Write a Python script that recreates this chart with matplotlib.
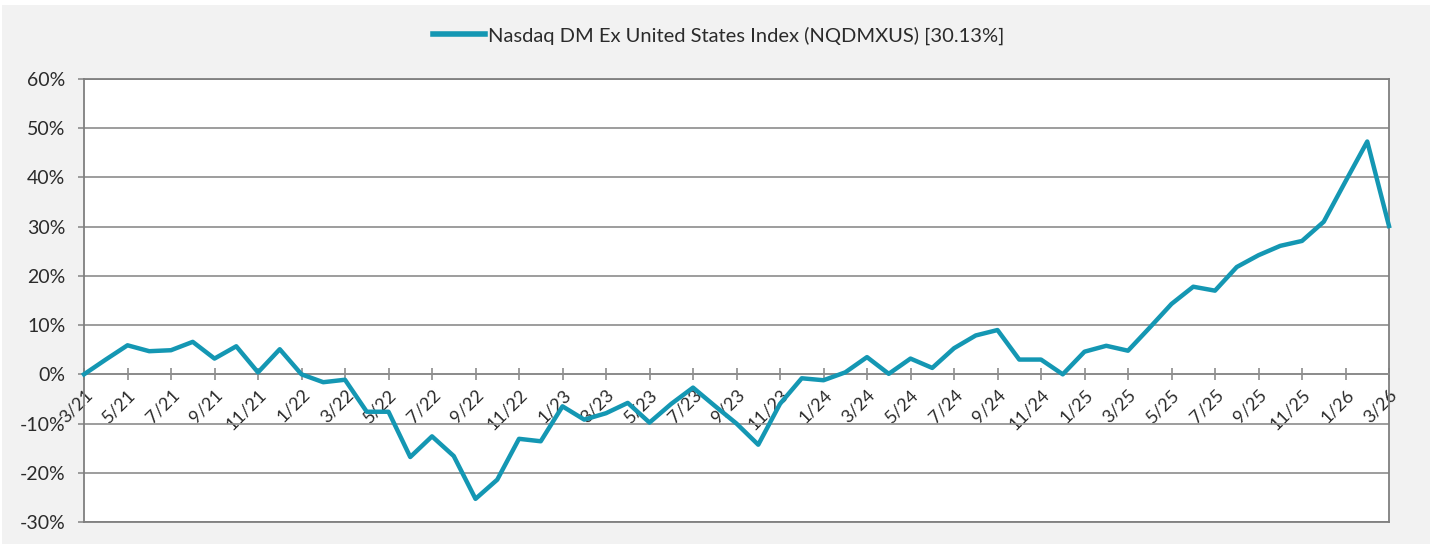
import matplotlib
matplotlib.use("Agg")
import matplotlib.pyplot as plt
from matplotlib.patches import Rectangle
from matplotlib.ticker import FuncFormatter

plt.rcParams["font.family"] = ["Lato", "DejaVu Sans"]

# monthly cumulative return, 3/21 .. 3/26
months = [f"{(2 + i) % 12 + 1}/{21 + (2 + i) // 12}" for i in range(61)]
returns = [
    0.0, 3.0, 5.9, 4.7, 4.9, 6.6, 3.2, 5.7, 0.4, 5.1,
    0.0, -1.6, -1.1, -7.6, -7.6, -16.8, -12.6, -16.6, -25.3, -21.4,
    -13.1, -13.6, -6.5, -9.2, -7.9, -5.8, -9.8, -6.0, -2.7, -6.4,
    -10.0, -14.3, -6.0, -0.8, -1.2, 0.4, 3.5, 0.1, 3.2, 1.3,
    5.3, 7.9, 9.0, 3.0, 3.0, 0.0, 4.6, 5.8, 4.8, 9.5,
    14.3, 17.8, 17.0, 21.8, 24.2, 26.1, 27.1, 31.0, 39.2, 47.3,
    30.13,
]
series_name = "Nasdaq DM Ex United States Index (NQDMXUS) [30.13%]"
yticks = [-30, -20, -10, 0, 10, 20, 30, 40, 50, 60]

line_color = "#1497b3"
grid_color = "#8c8c8c"
text_color = "#2b2b2b"

fig = plt.figure(figsize=(14.37, 5.44), dpi=100, facecolor="white")
fig.patches.append(Rectangle((2 / 1437, 0), 1428 / 1437, 539 / 544,
                             transform=fig.transFigure, facecolor="#f2f2f2",
                             edgecolor="none", zorder=-10))

ax = fig.add_axes([84 / 1437, 1 - 522 / 544, 1305 / 1437, 443 / 544])
ax.set_facecolor("white")

x = list(range(len(months)))
ax.plot(x, returns, color=line_color, lw=3.2, zorder=3,
        label=series_name, clip_on=False)

ax.set_xlim(0, len(months) - 1)
ax.set_ylim(-30, 60)
ax.set_yticks(yticks)
ax.yaxis.set_major_formatter(FuncFormatter(lambda v, p: f"{v:.0f}%"))
ax.grid(axis="y", color=grid_color, lw=1.2)
ax.set_axisbelow(True)

for s in ["top", "right", "left", "bottom"]:
    ax.spines[s].set_color("#7f7f7f")
    ax.spines[s].set_linewidth(1.3)

# x axis sits on the zero line, frame bottom drawn separately
ax.axhline(-30, color="#7f7f7f", lw=1.3, zorder=1, clip_on=False)
ax.spines["bottom"].set_position(("data", 0))
ax.spines["bottom"].set_color(grid_color)

ax.set_xticks(x[::2])
ax.set_xticklabels(months[::2], rotation=45, ha="right", va="top",
                   rotation_mode="anchor")
ax.tick_params(axis="x", direction="inout", length=9, width=1.2, color=grid_color,
               labelsize=13, labelcolor=text_color, pad=4)
ax.tick_params(axis="y", length=4.5, width=1.2, color=grid_color,
               labelsize=14, labelcolor=text_color, pad=9)

fig.legend(loc="upper center", bbox_to_anchor=(0.5, 0.985), frameon=False,
           fontsize=14.5, handlelength=2.6, handletextpad=0.15,
           labelcolor=text_color)
leg = fig.legends[0]
for h in leg.get_lines():
    h.set_linewidth(4)

fig.savefig("out.png", dpi=100, facecolor=fig.get_facecolor())
